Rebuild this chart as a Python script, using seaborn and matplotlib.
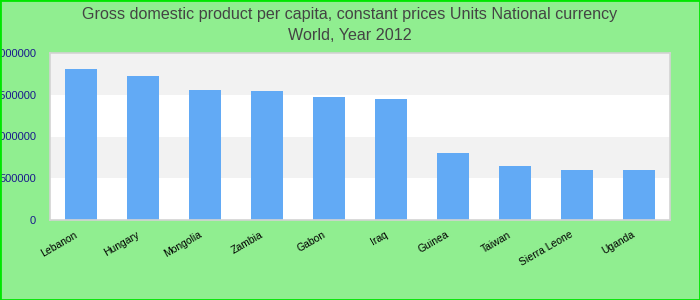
import matplotlib
matplotlib.use("Agg")
import matplotlib.pyplot as plt
import matplotlib.patches as mpatches
import matplotlib.transforms as mtransforms
import seaborn as sns
import pandas as pd

countries = ["Lebanon", "Hungary", "Mongolia", "Zambia", "Gabon", "Iraq",
             "Guinea", "Taiwan", "Sierra Leone", "Uganda"]
values = [1808000, 1725000, 1557000, 1545000, 1473000, 1449000,
          802000, 647000, 599000, 599000]
yticks = [0, 500000, 1000000, 1500000, 2000000]
title_lines = ["Gross domestic product per capita, constant prices Units National currency",
               "World, Year 2012"]

df = pd.DataFrame({"country": countries, "value": values})

sns.set_theme(style="white")
plt.rcParams['font.family'] = ['Liberation Sans', 'DejaVu Sans']

fig = plt.figure(figsize=(7, 3), dpi=100, facecolor="#90ee90")
ax = fig.add_axes([50/700, 80/300, 620/700, 167/300])
ax.set_facecolor("white")

# alternating bands
for i in range(len(yticks) - 1):
    if i % 2 == 1:
        ax.axhspan(yticks[i], yticks[i+1], color="#f2f2f2", zorder=0, lw=0)

sns.barplot(data=df, x="country", y="value", color="#62aaf5", width=0.52,
            saturation=1, ax=ax, zorder=2, linewidth=0)

ax.set_ylim(0, 2000000)
ax.set_xlim(-0.5, len(countries) - 0.5)
ax.set_yticks(yticks)
ax.set_yticklabels([str(v) for v in yticks], color="#1a1a8c", fontsize=8)
ax.tick_params(axis="y", length=0, pad=10)
ax.tick_params(axis="x", length=0, pad=7)
offset = mtransforms.ScaledTranslation(-7/100, 0, fig.dpi_scale_trans)
for lab in ax.get_xticklabels():
    lab.set_rotation(30)
    lab.set_ha("right")
    lab.set_rotation_mode("anchor")
    lab.set_fontsize(7.5)
    lab.set_color("black")
    lab.set_transform(lab.get_transform() + offset)
ax.set_xlabel("")
ax.set_ylabel("")
for s in ax.spines.values():
    s.set_color("#d3d3d3")
    s.set_linewidth(1.2)

fig.text(0.5, 1 - 14/300, title_lines[0], ha="center", va="center",
         fontsize=11.6, color="#444444")
fig.text(0.5, 1 - 36/300, title_lines[1], ha="center", va="center",
         fontsize=11.6, color="#444444")

fig.patches.append(mpatches.Rectangle((0, 0), 1, 1, transform=fig.transFigure,
                                      fill=False, edgecolor="#00e600", lw=2))

fig.savefig("out.png", dpi=100, facecolor=fig.get_facecolor())
